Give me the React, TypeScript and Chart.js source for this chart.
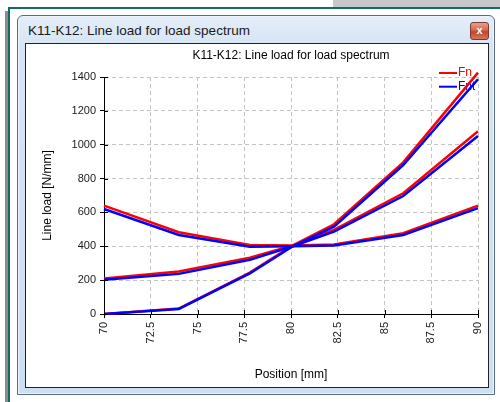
import React, { useEffect, useRef } from "react";
import { Chart, registerables } from "chart.js";
Chart.register(...registerables);

// Data
const positions = [70, 74, 77.8, 80.1, 82.3, 86, 90];
const fnA = [0, 32, 245, 405, 530, 896, 1426];
const fnB = [210, 251, 332, 405, 497, 713, 1080];
const fnC = [640, 483, 408, 405, 410, 477, 640];
const fntA = [0, 30, 240, 400, 516, 880, 1387];
const fntB = [202, 237, 320, 400, 487, 697, 1051];
const fntC = [620, 467, 398, 400, 405, 467, 625];
const legendLabels = ["Fn", "Fnt"];
const seriesColors = ["#ff0000", "#0000ff"];
const xTicks = [70, 72.5, 75, 77.5, 80, 82.5, 85, 87.5, 90];
const yTicks = [0, 200, 400, 600, 800, 1000, 1200, 1400];

const FONT = "'Liberation Sans', Arial, sans-serif";
const windowTitle = "K11-K12: Line load for load spectrum";

const toPoints = (vals: number[]) => vals.map((v, i) => ({ x: positions[i], y: v }));

const innerTicks = {
  id: "innerTicks",
  afterDraw(chart: any) {
    const { ctx, chartArea, scales } = chart;
    ctx.save();
    ctx.strokeStyle = "#000";
    ctx.lineWidth = 1;
    yTicks.forEach((t) => {
      const y = Math.round(scales.y.getPixelForValue(t)) + 0.5;
      ctx.beginPath();
      ctx.moveTo(chartArea.left, y);
      ctx.lineTo(chartArea.left + 4, y);
      ctx.stroke();
    });
    xTicks.forEach((t) => {
      const x = Math.round(scales.x.getPixelForValue(t)) + 0.5;
      ctx.beginPath();
      ctx.moveTo(x, chartArea.bottom);
      ctx.lineTo(x, chartArea.bottom - 4);
      ctx.stroke();
    });
    ctx.restore();
  },
};

const cornerLegend = {
  id: "cornerLegend",
  beforeDatasetsDraw(chart: any) {
    const { ctx, chartArea } = chart;
    ctx.save();
    legendLabels.forEach((label, i) => {
      const y = chartArea.top - 4 + i * 13.7;
      const x0 = chartArea.right - 39;
      ctx.strokeStyle = seriesColors[i];
      ctx.lineWidth = 2;
      ctx.beginPath();
      ctx.moveTo(x0, y);
      ctx.lineTo(x0 + 18, y);
      ctx.stroke();
      ctx.fillStyle = seriesColors[i];
      ctx.font = `12px ${FONT}`;
      ctx.textBaseline = "middle";
      ctx.textAlign = "left";
      ctx.fillText(label, x0 + 19, y);
    });
    ctx.restore();
  },
};

function LineChart() {
  const ref = useRef<HTMLCanvasElement>(null);
  useEffect(() => {
    if (!ref.current) return;
    const mk = (label: string, vals: number[], color: string) => ({
      label,
      data: toPoints(vals),
      borderColor: color,
      backgroundColor: color,
      borderWidth: 2.5,
      pointRadius: 0,
      tension: 0,
      fill: false,
      showLine: true,
      clip: 12,
    });
    const tickFont = { family: FONT, size: 11 };
    const titleFont = { family: FONT, size: 12, weight: "normal" as const };
    const chart = new Chart(ref.current, {
      type: "line",
      data: {
        datasets: [
          mk(legendLabels[1], fntA, seriesColors[1]),
          mk(legendLabels[1], fntB, seriesColors[1]),
          mk(legendLabels[1], fntC, seriesColors[1]),
          mk(legendLabels[0], fnA, seriesColors[0]),
          mk(legendLabels[0], fnB, seriesColors[0]),
          mk(legendLabels[0], fnC, seriesColors[0]),
        ],
      },
      options: {
        animation: false,
        responsive: false,
        maintainAspectRatio: false,
        layout: { padding: { left: 0, right: 10, top: 0, bottom: 0 } },
        plugins: {
          legend: { display: false },
          tooltip: { enabled: false },
          title: {
            display: true,
            text: windowTitle,
            fullSize: false,
            font: titleFont,
            color: "#000",
            padding: { top: 4, bottom: 14.6 },
          },
        },
        scales: {
          x: {
            type: "linear",
            min: 70,
            max: 90,
            afterBuildTicks: (s: any) => {
              s.ticks = xTicks.map((v) => ({ value: v }));
            },
            ticks: {
              minRotation: 90,
              maxRotation: 90,
              autoSkip: false,
              padding: 4,
              font: tickFont,
              color: "#1a1a1a",
              callback: (v: any) => String(v),
            },
            grid: { color: "#c4c4c4", tickColor: "#000", tickLength: 4, tickBorderDash: [] },
            border: { color: "#000", width: 1, dash: [4, 3] },
            title: {
              display: true,
              text: "Position [mm]",
              font: titleFont,
              color: "#000",
              padding: { top: 0, bottom: 4.8 },
            },
            afterFit: (s: any) => {
              s.height = 73;
              s.paddingLeft = 0;
              s.paddingRight = 0;
            },
          },
          y: {
            type: "linear",
            min: 0,
            max: 1400,
            afterBuildTicks: (s: any) => {
              s.ticks = yTicks.map((v) => ({ value: v }));
            },
            ticks: {
              padding: 4,
              font: tickFont,
              color: "#1a1a1a",
              callback: (v: any) => String(v),
            },
            grid: { color: "#c4c4c4", tickColor: "#000", tickLength: 4, tickBorderDash: [] },
            border: { color: "#000", width: 1, dash: [4, 3] },
            title: {
              display: true,
              text: "Line load [N/mm]",
              font: titleFont,
              color: "#000",
              padding: { top: 14, bottom: 0 },
            },
            afterFit: (s: any) => {
              s.width = 78;
              s.paddingTop = 0;
              s.paddingBottom = 0;
            },
          },
        },
      },
      plugins: [innerTicks, cornerLegend],
    } as any);
    return () => chart.destroy();
  }, []);
  return <canvas ref={ref} width={462} height={343} style={{ display: "block", width: 462, height: 343 }} />;
}

export default function App() {
  const abs = (l: number, t: number, w: number, h: number, extra: any = {}) => ({
    position: "absolute" as const,
    left: l,
    top: t,
    width: w,
    height: h,
    ...extra,
  });
  return (
    <div style={{ position: "fixed", left: 0, top: 0, width: 500, height: 402, background: "#fff", overflow: "hidden" }}>
      <div style={abs(333, 0, 167, 7, { background: "#c8c8c8" })} />
      <div style={abs(5, 11, 3, 391, { background: "#8c8c8c" })} />
      <div style={abs(8, 7, 492, 2, { background: "#136b63" })} />
      <div style={abs(8, 7, 2, 395, { background: "#136b63" })} />
      {/* window */}
      <div
        style={abs(17, 15, 478, 380, {
          boxSizing: "border-box",
          border: "1px solid #5a6a7e",
          borderRadius: "6px 6px 0 0",
          background: "linear-gradient(180deg, #e4eef9 0%, #d6e4f4 8%, #cddff2 100%)",
          boxShadow: "inset 0 0 0 1px #eef5fc",
        })}
      />
      <div
        style={abs(28, 22, 420, 18, {
          font: `13.5px ${FONT}`,
          lineHeight: "18px",
          color: "#1a1a1a",
          whiteSpace: "nowrap",
        })}
      >
        {windowTitle}
      </div>
      <div
        style={abs(470, 22, 19, 18, {
          boxSizing: "border-box",
          border: "1px solid #7a3a30",
          borderRadius: 3,
          background: "linear-gradient(180deg, #e8a08e 0%, #d5664d 45%, #c2452c 55%, #d6765c 100%)",
          color: "#fff",
          font: `bold 11px ${FONT}`,
          lineHeight: "15px",
          textAlign: "center",
        })}
      >
        x
      </div>
      {/* client area */}
      <div style={abs(25, 43, 464, 345, { boxSizing: "border-box", border: "1px solid #222", background: "#fff" })} />
      <div style={abs(26, 44, 462, 343)}>
        <LineChart />
      </div>
    </div>
  );
}
